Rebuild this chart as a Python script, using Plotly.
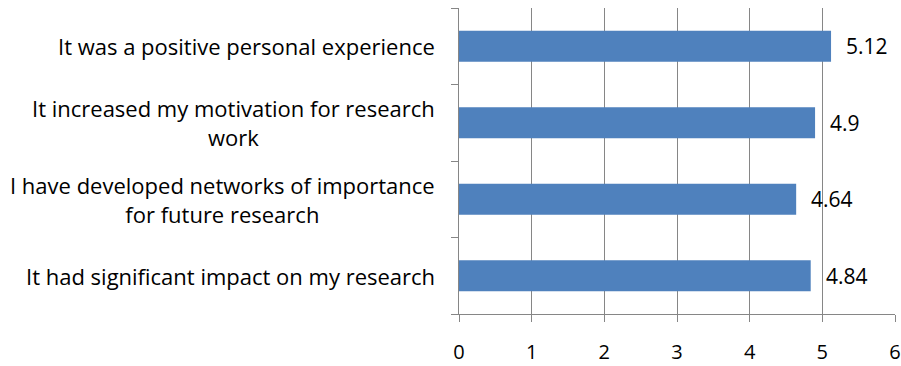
import plotly.graph_objects as go

categories = [
    "It had significant impact on my research",
    "I have developed networks of importance<br>for future research",
    "It increased my motivation for research<br>work",
    "It was a positive personal experience",
]
values = [4.84, 4.64, 4.9, 5.12]
value_labels = ["4.84", "4.64", "4.9", "5.12"]
x_ticks = [0, 1, 2, 3, 4, 5, 6]

FONT = "Open Sans, sans-serif"
AXIS = "#868686"
FS_CAT = 22
FS = 21
FS_TICK = 20

fig = go.Figure(go.Bar(
    y=categories, x=values, orientation="h",
    marker=dict(color="#4F81BD", line=dict(width=0)),
    width=0.405,
))

annotations = []
for cat in categories:
    annotations.append(dict(
        x=0, xref="paper", y=cat, yref="y", text=cat,
        xanchor="right", yanchor="middle", align="center",
        xshift=-22, showarrow=False,
        font=dict(family=FONT, size=FS_CAT, color="#000000"),
    ))
for cat, v, lab in zip(categories, values, value_labels):
    annotations.append(dict(
        x=v, xref="x", y=cat, yref="y", text=lab,
        xanchor="left", yanchor="middle",
        xshift=13, showarrow=False,
        font=dict(family=FONT, size=FS, color="#000000"),
    ))

fig.update_layout(
    width=901, height=366,
    margin=dict(l=459, r=6, t=8, b=52),
    plot_bgcolor="white", paper_bgcolor="white",
    showlegend=False,
    font=dict(family=FONT, size=FS, color="#000000"),
    annotations=annotations,
)
fig.update_xaxes(
    range=[0, 6], tickvals=x_ticks, ticktext=[str(v) for v in x_ticks],
    showgrid=True, gridcolor=AXIS, gridwidth=1,
    showline=True, linecolor=AXIS, linewidth=1,
    ticks="outside", ticklen=7, tickcolor=AXIS,
    zeroline=False, ticklabelstandoff=13, automargin=False,
    tickfont=dict(family=FONT, size=FS_TICK, color="#000000"),
)
fig.update_yaxes(
    showgrid=False, showline=True, linecolor=AXIS, linewidth=1,
    ticks="outside", ticklen=7, tickcolor=AXIS, tickson="boundaries",
    showticklabels=False, automargin=False,
)

fig.write_html("out.html")
